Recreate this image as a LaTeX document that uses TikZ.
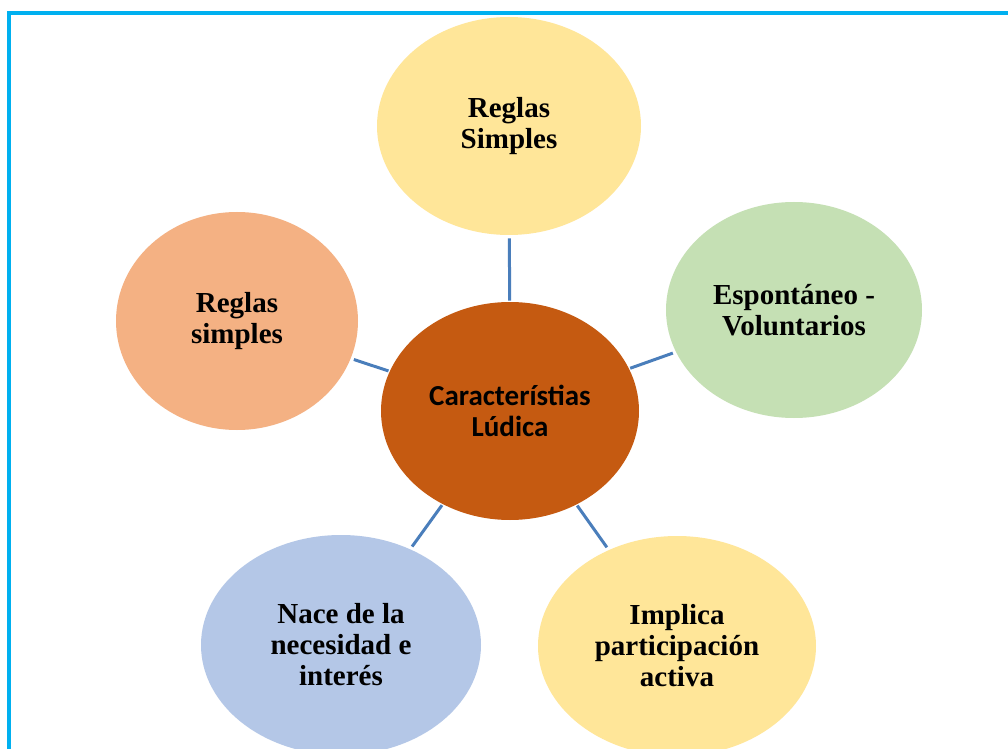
\documentclass[tikz,border=0pt]{standalone}
\usepackage{fontspec}
\usepackage{tikz}
\usetikzlibrary{shapes.geometric}
\setmainfont{Liberation Serif}
\newfontfamily\hubfont{Carlito}

\definecolor{frameblue}{HTML}{00B0F0}
\definecolor{spokeblue}{HTML}{4A7EBB}
\definecolor{softyellow}{HTML}{FFE699}
\definecolor{softgreen}{HTML}{C5E0B4}
\definecolor{softorange}{HTML}{F4B183}
\definecolor{softblue}{HTML}{B4C7E7}
\definecolor{rust}{HTML}{C55A11}

\tikzset{
  bubble/.style={ellipse, inner sep=0pt, align=center,
    font=\fontsize{14.5}{15.5}\selectfont\bfseries},
  hub/.style={bubble, fill=rust, font=\fontsize{14.5}{15.5}\selectfont\hubfont\bfseries},
  spoke/.style={draw=spokeblue, line width=1.5pt, shorten <=0.5pt, shorten >=1.5pt}
}

\begin{document}
\begin{tikzpicture}[x=0.5pt,y=-0.5pt]
              \useasboundingbox (0,0) rectangle (1008,749);
              \clip (0,0) rectangle (1008,749);
              \fill[white] (0,0) rectangle (1008,749);
              % frame
              \draw[frameblue, line width=2pt] (9,760) -- (9,13) -- (1020,13);
              % bubbles
              \node[bubble, fill=softyellow, minimum width=132pt, minimum height=109pt] (simples) at (509,126) {Reglas\\Simples};
              \node[bubble, fill=softgreen, minimum width=128pt, minimum height=108pt] (espontaneo) at (794,310) {Espontáneo -\\Voluntarios};
              \node[bubble, fill=softorange, minimum width=121pt, minimum height=109pt] (reglas) at (237,321) {Reglas\\simples};
              \node[bubble, fill=softblue, minimum width=140pt, minimum height=110pt] (nace) at (341,645) {Nace de la\\necesidad e\\interés};
              \node[bubble, fill=softyellow, minimum width=139pt, minimum height=110pt] (implica) at (677,646) {Implica\\participación\\activa};
              \node[hub, minimum width=129pt, minimum height=109pt] (ludica) at (510,411) {Característias\\Lúdica};
              % spokes
              \draw[spoke] (ludica) -- (simples);
              \draw[spoke] (ludica) -- (espontaneo);
              \draw[spoke] (ludica) -- (reglas);
              \draw[spoke] (ludica) -- (nace);
              \draw[spoke] (ludica) -- (implica);
\end{tikzpicture}
\end{document}
